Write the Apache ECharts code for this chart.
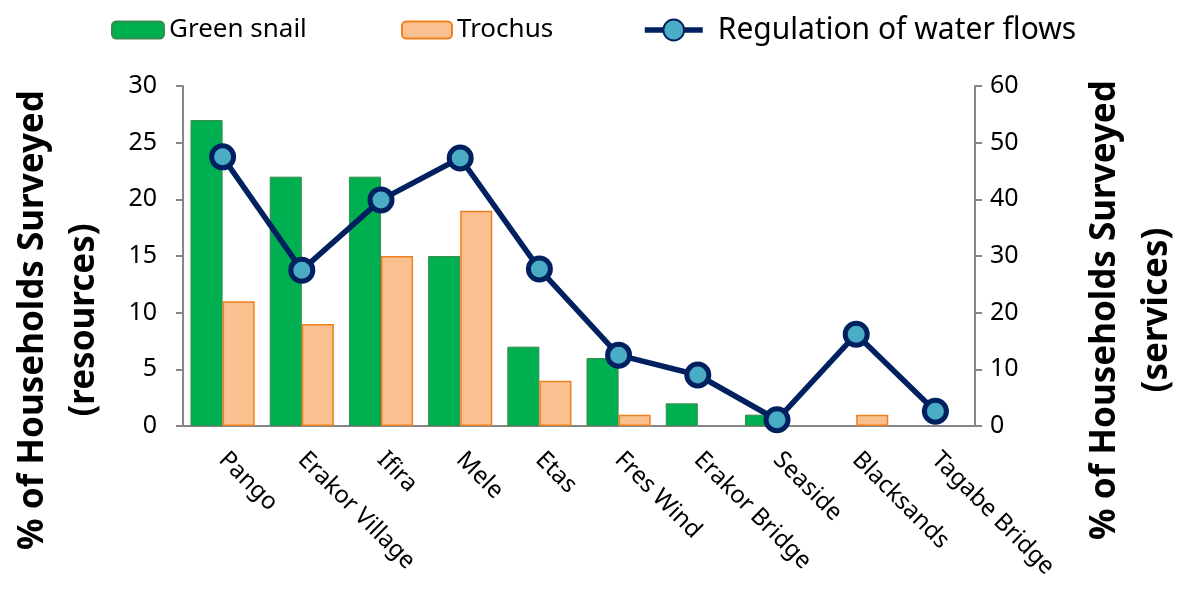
<!DOCTYPE html>
<html>
<head>
<meta charset="utf-8">
<script src="https://cdn.jsdelivr.net/npm/echarts@6/dist/echarts.min.js"></script>
<style>
  html, body { margin: 0; padding: 0; background: #fff; }
  #main { width: 1182px; height: 601px; }
</style>
</head>
<body>
<div id="main"></div>
<script>
// data
const sites = ['Pango', 'Erakor Village', 'Ifira', 'Mele', 'Etas', 'Fres Wind', 'Erakor Bridge', 'Seaside', 'Blacksands', 'Tagabe Bridge']
const greenSnail = [27, 22, 22, 15, 7, 6, 2, 1, 0, 0]
const trochus = [11, 9, 15, 19, 4, 1, 0, 0, 1, 0]
const waterFlows = [47.5, 27.5, 39.9, 47.3, 27.7, 12.5, 9, 1.1, 16.2, 2.6]
const leftTicks = [0, 30, 5]   // min, max, step
const rightTicks = [0, 60, 10]

const font = 'Noto Sans'
const axisGray = '#868686'

// zero bars get no outline so they don't show as a line on the axis
function barItems(values) {
  return values.map(v => v === 0 ? { value: v, itemStyle: { borderWidth: 0 } } : v)
}

let chart = echarts.init(document.getElementById('main'))

const nameFont = 'bold 35px Noto Sans'

const option = {
  backgroundColor: '#fff',
  textStyle: { fontFamily: font },
  grid: { left: 183, right: 207, top: 86, bottom: 175 },
  graphic: [
    { type: 'rect', shape: { x: 693, y: 0, width: 405, height: 48 }, style: { fill: '#fff' }, z: -1 },
    {
      type: 'text', x: 33, y: 320, rotation: Math.PI / 2,
      style: { text: '% of Households Surveyed', font: nameFont, fill: '#000', align: 'center', verticalAlign: 'middle' }
    },
    {
      type: 'text', x: 84, y: 320, rotation: Math.PI / 2,
      style: { text: '(resources)', font: nameFont, fill: '#000', align: 'center', verticalAlign: 'middle' }
    },
    {
      type: 'text', x: 1105, y: 310, rotation: Math.PI / 2,
      style: { text: '% of Households Surveyed', font: nameFont, fill: '#000', align: 'center', verticalAlign: 'middle' }
    },
    {
      type: 'text', x: 1157, y: 310, rotation: Math.PI / 2,
      style: { text: '(services)', font: nameFont, fill: '#000', align: 'center', verticalAlign: 'middle' }
    }
  ],
  legend: [
    {
      data: ['Green snail'], left: 106, top: 12, itemWidth: 52, itemHeight: 17,
      textStyle: { fontSize: 26, color: '#000', fontFamily: font }
    },
    {
      data: ['Trochus'], left: 396, top: 12, itemWidth: 50, itemHeight: 17,
      textStyle: { fontSize: 26, color: '#000', fontFamily: font }
    },
    {
      data: ['Regulation of water flows'], left: 637, top: 10, itemWidth: 58, itemHeight: 26,
      lineStyle: { width: 5.5 },
      textStyle: { fontSize: 30, color: '#000', fontFamily: font, padding: [0, 0, 0, 10] }
    }
  ],
  xAxis: {
    type: 'category',
    data: sites,
    axisLine: { lineStyle: { color: axisGray, width: 2 } },
    axisTick: { length: 8, lineStyle: { color: axisGray, width: 2 } },
    axisLabel: { rotate: -45, fontSize: 24, color: '#000', margin: 30, interval: 0 }
  },
  yAxis: [
    {
      type: 'value', min: leftTicks[0], max: leftTicks[1], interval: leftTicks[2],
      splitLine: { show: false },
      axisLine: { show: true, lineStyle: { color: axisGray, width: 2 } },
      axisTick: { show: true, length: 7, lineStyle: { color: axisGray, width: 2 } },
      axisLabel: { fontSize: 25, color: '#000', margin: 26 }
    },
    {
      type: 'value', min: rightTicks[0], max: rightTicks[1], interval: rightTicks[2],
      splitLine: { show: false },
      axisLine: { show: true, lineStyle: { color: axisGray, width: 2 } },
      axisTick: { show: true, length: 7, lineStyle: { color: axisGray, width: 2 } },
      axisLabel: { fontSize: 25, color: '#000', margin: 15 }
    }
  ],
  series: [
    {
      name: 'Green snail', type: 'bar', data: barItems(greenSnail),
      barGap: '0%', barCategoryGap: '19%',
      itemStyle: { color: '#00B050', borderColor: '#3a8a4e', borderWidth: 1 }
    },
    {
      name: 'Trochus', type: 'bar', data: barItems(trochus),
      itemStyle: { color: '#FAC090', borderColor: '#F07F1E', borderWidth: 1.5 }
    },
    {
      name: 'Regulation of water flows', type: 'line', yAxisIndex: 1, data: waterFlows,
      symbol: 'circle', symbolSize: 22,
      lineStyle: { color: '#002060', width: 5.5 },
      itemStyle: { color: '#4BACC6', borderColor: '#002060', borderWidth: 5 }
    }
  ]
}

chart.setOption(option)
</script>
</body>
</html>
